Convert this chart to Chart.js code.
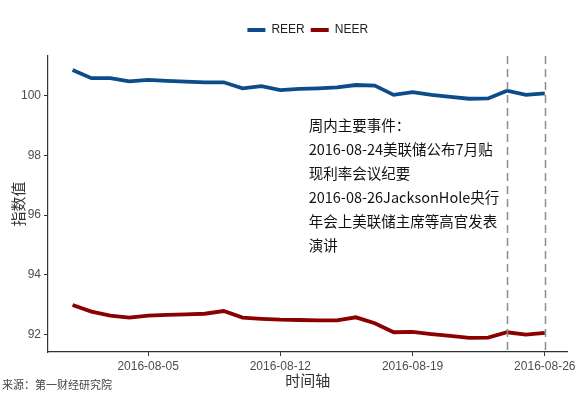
<!DOCTYPE html>
<html>
<head>
<meta charset="utf-8">
<script src="https://cdn.jsdelivr.net/npm/chart.js@4.4.1/dist/chart.umd.min.js"></script>
<style>
  html, body { margin: 0; padding: 0; background: #fff; }
  #wrap { width: 579px; height: 399px; }
</style>
</head>
<body>
<div id="wrap"><canvas id="rateChart" width="579" height="399"></canvas></div>
<script>
const dates = ['2016-08-01','2016-08-02','2016-08-03','2016-08-04','2016-08-05','2016-08-06','2016-08-07',
  '2016-08-08','2016-08-09','2016-08-10','2016-08-11','2016-08-12','2016-08-13','2016-08-14',
  '2016-08-15','2016-08-16','2016-08-17','2016-08-18','2016-08-19','2016-08-20','2016-08-21',
  '2016-08-22','2016-08-23','2016-08-24','2016-08-25','2016-08-26'];
const reer = [100.85,100.58,100.58,100.47,100.52,100.49,100.46,100.44,100.44,100.24,100.31,100.18,100.22,
  100.24,100.27,100.35,100.33,100.02,100.11,100.02,99.95,99.89,99.90,100.16,100.02,100.07];
const neer = [92.99,92.77,92.64,92.57,92.64,92.66,92.68,92.70,92.79,92.57,92.53,92.50,92.49,
  92.48,92.48,92.58,92.38,92.08,92.09,92.02,91.96,91.89,91.90,92.08,92.00,92.06];
const xTicks = ['2016-08-05','2016-08-12','2016-08-19','2016-08-26'];
const yTicks = [92, 94, 96, 98, 100];
const eventDates = ['2016-08-24','2016-08-26'];
const noteLines = ['周内主要事件：','2016-08-24美联储公布7月贴','现利率会议纪要',
  '2016-08-26JacksonHole央行','年会上美联储主席等高官发表','演讲'];
const source = '来源：第一财经研究院';

const cjk = '"Noto Sans CJK SC", sans-serif';
const latin = '"Liberation Sans", Arial, sans-serif';

const toPoints = vals => vals.map((v, i) => ({ x: i, y: v }));

// dashed event lines + note text + source line
const extras = {
  id: 'extras',
  afterDatasetsDraw(chart) {
    const { ctx, chartArea, scales: { x, y } } = chart;
    ctx.save();
    ctx.strokeStyle = '#8c8c8c';
    ctx.lineWidth = 1.5;
    ctx.setLineDash([8, 5]);
    eventDates.forEach(d => {
      const px = Math.round(x.getPixelForValue(dates.indexOf(d))) + 0.5;
      ctx.beginPath();
      ctx.moveTo(px, chartArea.top);
      ctx.lineTo(px, chartArea.bottom);
      ctx.stroke();
    });
    ctx.setLineDash([]);
    ctx.fillStyle = '#111';
    ctx.font = '14.5px ' + cjk;
    ctx.textBaseline = 'middle';
    const tx = x.getPixelForValue(12.5);
    const ty = y.getPixelForValue(99.01);
    noteLines.forEach((t, i) => ctx.fillText(t, tx, ty + i * 24));
    ctx.fillStyle = '#444';
    ctx.font = '11px ' + cjk;
    ctx.fillText(source, 2, 385);
    ctx.restore();
  }
};

// push plot area down below the legend
const legendGap = {
  id: 'legendGap',
  beforeInit(chart) {
    const fit = chart.legend.fit;
    chart.legend.fit = function () {
      fit.bind(chart.legend)();
      this.height += 10;
    };
  }
};

new Chart(document.getElementById('rateChart'), {
  type: 'line',
  data: {
    datasets: [
      { label: 'REER', data: toPoints(reer), borderColor: '#0c4c8a', backgroundColor: '#0c4c8a',
        borderWidth: 3.8, pointRadius: 0, tension: 0 },
      { label: 'NEER', data: toPoints(neer), borderColor: '#8b0000', backgroundColor: '#8b0000',
        borderWidth: 3.8, pointRadius: 0, tension: 0 }
    ]
  },
  options: {
    responsive: false,
    animation: false,
    layout: { padding: { top: 18, right: 11, bottom: 0, left: 0 } },
    plugins: {
      tooltip: { enabled: false },
      legend: {
        position: 'top',
        fullSize: false,
        labels: {
          boxWidth: 18, boxHeight: 4, padding: 6, color: '#222',
          font: { family: latin, size: 12 },
          generateLabels(chart) {
            return Chart.defaults.plugins.legend.labels.generateLabels(chart)
              .map(l => Object.assign(l, { lineWidth: 0 }));
          }
        }
      }
    },
    scales: {
      x: {
        type: 'linear',
        min: -1.3, max: 26.2,
        afterBuildTicks: s => { s.ticks = xTicks.map(d => ({ value: dates.indexOf(d) })); },
        afterFit: s => { s.height = 47; },
        ticks: {
          color: '#4d4d4d', font: { family: latin, size: 12 }, padding: 3, maxRotation: 0,
          callback: v => dates[v]
        },
        grid: { drawOnChartArea: false, drawTicks: true, tickLength: 4, color: '#333' },
        border: { display: true, color: '#333', width: 1.2 },
        title: { display: true, text: '时间轴', color: '#333', font: { family: cjk, size: 15 },
          padding: { top: 0, bottom: 10 } }
      },
      y: {
        min: 91.42, max: 101.32,
        afterBuildTicks: s => { s.ticks = yTicks.map(v => ({ value: v })); },
        afterFit: s => { s.width = 48; },
        ticks: { color: '#4d4d4d', font: { family: latin, size: 12 }, padding: 3 },
        grid: { drawOnChartArea: false, drawTicks: true, tickLength: 4, color: '#333' },
        border: { display: true, color: '#333', width: 1.2 },
        title: { display: true, text: '指数值', color: '#333', font: { family: cjk, size: 15 },
          padding: { top: 9, bottom: 0 } }
      }
    }
  },
  plugins: [extras, legendGap]
});
</script>
</body>
</html>
